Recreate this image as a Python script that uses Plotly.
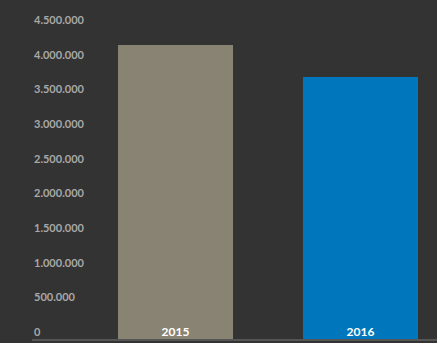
import plotly.graph_objects as go

years = ["2015", "2016"]
values = [4240000, 3780000]
colors = ["#898373", "#0077bc"]
tick_vals = [0, 500000, 1000000, 1500000, 2000000, 2500000, 3000000, 3500000, 4000000, 4500000]
tick_text = ["0", "500.000", "1.000.000", "1.500.000", "2.000.000", "2.500.000",
             "3.000.000", "3.500.000", "4.000.000", "4.500.000"]

fig = go.Figure(go.Bar(x=[0, 1], y=values, marker=dict(color=colors, line=dict(width=0)),
                       width=0.6216, hoverinfo="skip"))

for v, t in zip(tick_vals, tick_text):
    fig.add_annotation(x=0, xref="paper", y=v, yref="y", text=t, showarrow=False,
                       xanchor="left", yanchor="bottom", xshift=0, yshift=-1,
                       font=dict(color="#a8a8a8", size=11, family="Lato, sans-serif", weight="bold"))

fig.update_layout(
    width=437, height=343,
    margin=dict(l=32, r=0, t=27, b=4),
    paper_bgcolor="#333333", plot_bgcolor="#333333",
    showlegend=False,
    font=dict(family="Lato, Open Sans, sans-serif"),
)
fig.update_xaxes(
    range=[-0.7757, 1.4135], tickvals=[0, 1], ticktext=years,
    ticklabelposition="inside", ticks="",
    tickfont=dict(color="#ffffff", size=12, family="Lato, sans-serif", weight="bold"),
    showline=True, linecolor="#555555", linewidth=2, showgrid=False, zeroline=False,
)
fig.update_yaxes(
    range=[0, 4500000], showticklabels=False, ticks="",
    showgrid=False, zeroline=False, showline=False,
)
fig.write_html("out.html")
